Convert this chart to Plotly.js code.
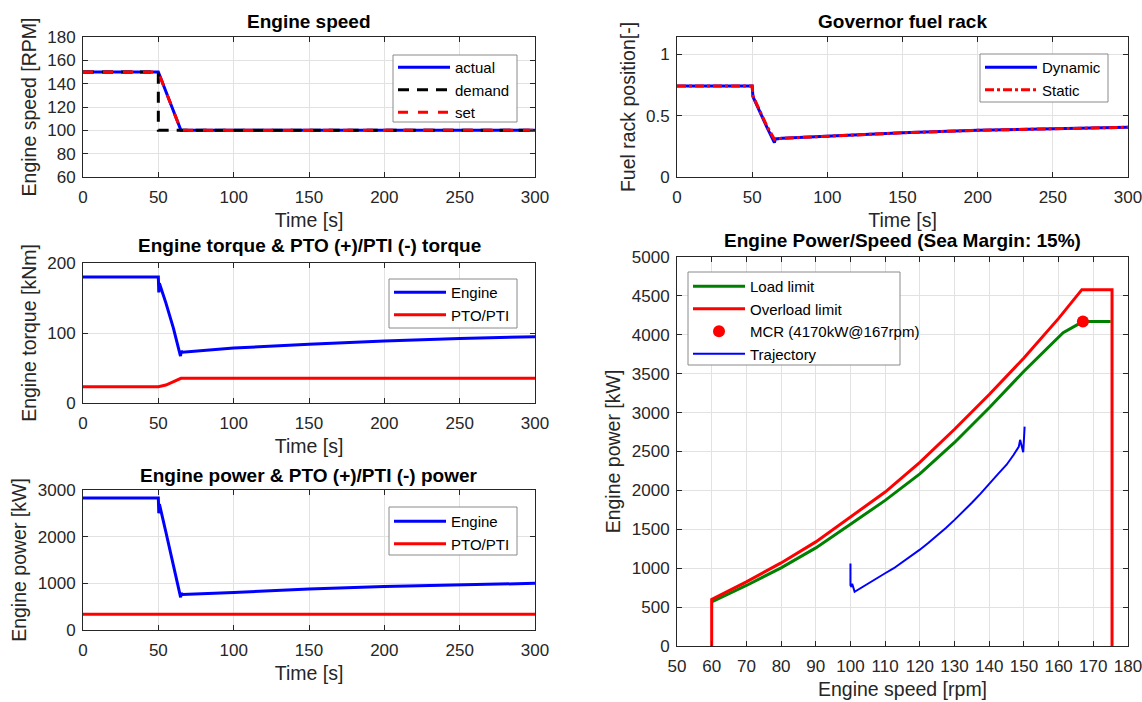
<!DOCTYPE html>
<html>
<head>
<meta charset="utf-8">
<script src="https://cdn.plot.ly/plotly-3.0.1.min.js"></script>
<style>html,body{margin:0;padding:0;background:#fff;}#chart{width:1142px;height:702px;}</style>
</head>
<body>
<div id="chart"></div>
<script>
// ---- Engine speed ----
const timeSpeed = [0, 50, 65, 300];
const speedActual = [150, 150, 100, 100];
const timeDemand = [0, 50, 50, 300];
const speedDemand = [150, 150, 100, 100];
const speedSet = [150, 150, 100, 100];

// ---- Governor fuel rack ----
const timeRack = [0, 50, 50.5, 55, 60, 64.8, 65.5, 70, 100, 150, 200, 250, 300];
const rackDynamic = [0.74, 0.74, 0.655, 0.53, 0.40, 0.28, 0.31, 0.315, 0.334, 0.36, 0.38, 0.394, 0.405];
const rackStatic = [0.74, 0.74, 0.66, 0.535, 0.41, 0.307, 0.31, 0.315, 0.334, 0.36, 0.38, 0.394, 0.405];

// ---- Engine torque ----
const timeTorque = [0, 50, 50.3, 50.7, 55, 60, 64.7, 65.2, 66, 100, 150, 200, 250, 300];
const torqueEngine = [180, 180, 158, 171, 143, 107, 67, 74, 72.5, 78.5, 84, 88.7, 92, 94.8];
const timePto = [0, 50, 55, 60, 65, 300];
const torquePto = [23.3, 23.3, 25.7, 30, 35.2, 35.2];

// ---- Engine power ----
const timePower = [0, 50, 50.3, 50.7, 55, 60, 64.8, 65.2, 66, 100, 150, 200, 250, 300];
const powerEngine = [2830, 2830, 2500, 2700, 2100, 1380, 700, 790, 760, 805, 880, 930, 972, 1000];
const timePtoPower = [0, 300];
const powerPto = [340, 340];

// ---- Engine power / speed ----
const loadSpeed = [60, 70, 80, 90, 100, 110, 120, 130, 140, 150, 161.3, 167, 175];
const loadPower = [568, 778, 1004, 1261, 1564, 1872, 2212, 2616, 3063, 3531, 4028, 4170, 4170];
const overloadSpeed = [60, 60, 70, 80, 90, 100, 110, 120, 130, 140, 150, 160, 166.7, 175.4, 175.4];
const overloadPower = [0, 598, 825, 1068, 1338, 1658, 1979, 2361, 2786, 3233, 3701, 4211, 4580, 4580, 0];
const mcrSpeed = [167];
const mcrPower = [4170];
const trajSpeed = [150.2, 149.8, 148.9, 148.5, 147, 145, 142.5, 140, 137.5, 135, 132.5, 130, 127.5, 125, 122.5, 120, 117.5, 115, 112.5, 110, 107.5, 105, 103, 101.2, 100.5, 100.3, 100, 100];
const trajPower = [2820, 2490, 2650, 2560, 2455, 2330, 2209, 2081, 1958, 1841, 1728, 1621, 1518, 1419, 1327, 1238, 1155, 1075, 1000, 935, 870, 800, 750, 697, 800, 760, 780, 1060];

const FONT = 'Liberation Sans, Arial, sans-serif';
const INK = '#262626';
const BLUE = '#0000ff', RED = '#ff0000', GREEN = '#008000';
const H = 702, W = 1142;

function axis(domain, range, dtick, anchor, titleText, isX) {
  return {
    domain: domain, range: range, dtick: dtick, tick0: 0, anchor: anchor,
    showgrid: true, gridcolor: '#e2e2e2', gridwidth: 1, zeroline: false,
    showline: true, linecolor: INK, linewidth: 1, mirror: 'ticks',
    ticks: 'inside', ticklen: 5, tickcolor: INK,
    ticklabelstandoff: isX ? 5 : 3,
    ticklabeloverflow: 'allow',
    tickfont: {family: FONT, size: 17, color: INK},
    title: {text: titleText, font: {family: FONT, size: 19.5, color: INK}, standoff: isX ? 6 : 5},
    automargin: false, fixedrange: true
  };
}
function yd(top, bottom) { return [1 - bottom / H, 1 - top / H]; }
function xd(left, right) { return [left / W, right / W]; }

const traces = [
  {x: timeSpeed, y: speedActual, name: 'actual', mode: 'lines', line: {color: BLUE, width: 3}, xaxis: 'x', yaxis: 'y', legend: 'legend'},
  {x: timeDemand, y: speedDemand, name: 'demand', mode: 'lines', line: {color: '#000', width: 3, dash: '11px,8px'}, xaxis: 'x', yaxis: 'y', legend: 'legend'},
  {x: timeSpeed, y: speedSet, name: 'set', mode: 'lines', line: {color: RED, width: 3, dash: '10px,10px'}, xaxis: 'x', yaxis: 'y', legend: 'legend'},

  {x: timeRack, y: rackDynamic, name: 'Dynamic', mode: 'lines', line: {color: BLUE, width: 3}, xaxis: 'x2', yaxis: 'y2', legend: 'legend2'},
  {x: timeRack, y: rackStatic, name: 'Static', mode: 'lines', line: {color: RED, width: 3, dash: 'dashdot'}, xaxis: 'x2', yaxis: 'y2', legend: 'legend2'},

  {x: timeTorque, y: torqueEngine, name: 'Engine', mode: 'lines', line: {color: BLUE, width: 3}, xaxis: 'x3', yaxis: 'y3', legend: 'legend3'},
  {x: timePto, y: torquePto, name: 'PTO/PTI', mode: 'lines', line: {color: RED, width: 3}, xaxis: 'x3', yaxis: 'y3', legend: 'legend3'},

  {x: timePower, y: powerEngine, name: 'Engine', mode: 'lines', line: {color: BLUE, width: 3}, xaxis: 'x4', yaxis: 'y4', legend: 'legend4'},
  {x: timePtoPower, y: powerPto, name: 'PTO/PTI', mode: 'lines', line: {color: RED, width: 3}, xaxis: 'x4', yaxis: 'y4', legend: 'legend4'},

  {x: loadSpeed, y: loadPower, name: 'Load limit', mode: 'lines', line: {color: GREEN, width: 3}, xaxis: 'x5', yaxis: 'y5', legend: 'legend5'},
  {x: overloadSpeed, y: overloadPower, name: 'Overload limit', mode: 'lines', line: {color: RED, width: 3}, xaxis: 'x5', yaxis: 'y5', legend: 'legend5'},
  {x: mcrSpeed, y: mcrPower, name: 'MCR (4170kW@167rpm)', mode: 'markers', marker: {color: RED, size: 12}, xaxis: 'x5', yaxis: 'y5', legend: 'legend5'},
  {x: trajSpeed, y: trajPower, name: 'Trajectory', mode: 'lines', line: {color: BLUE, width: 2}, xaxis: 'x5', yaxis: 'y5', legend: 'legend5'}
];

// legend text rows; the box around each legend is drawn as a paper shape
function legendAt(left, top) {
  return {x: left / W, y: 1 - top / H, xref: 'paper', yref: 'paper', xanchor: 'left', yanchor: 'top',
    bgcolor: 'rgba(0,0,0,0)', borderwidth: 0,
    font: {family: FONT, size: 15, color: '#000'}, itemwidth: 52, tracegroupgap: 0,
    traceorder: 'normal'};
}
function legendBox(l, t, r, b) {
  return {type: 'rect', xref: 'paper', yref: 'paper', layer: 'above',
    x0: l / W, x1: r / W, y0: 1 - b / H, y1: 1 - t / H,
    fillcolor: '#ffffff', line: {color: '#8a8a8a', width: 1}};
}
function subTitle(text, xc, yc) {
  return {text: '<b>' + text + '</b>', x: xc / W, y: 1 - yc / H, xref: 'paper', yref: 'paper',
    xanchor: 'center', yanchor: 'middle', showarrow: false,
    font: {family: FONT, size: 19, color: '#000'}};
}

const layout = {
  width: W, height: H,
  margin: {l: 0, r: 0, t: 0, b: 0},
  paper_bgcolor: '#fff', plot_bgcolor: '#fff',
  font: {family: FONT, color: INK},
  showlegend: true,
  xaxis: axis(xd(83, 535), [0, 300], 50, 'y', 'Time [s]', true),
  yaxis: axis(yd(37, 177), [60, 180], 20, 'x', 'Engine speed [RPM]', false),
  xaxis2: axis(xd(677, 1128), [0, 300], 50, 'y2', 'Time [s]', true),
  yaxis2: axis(yd(37, 177), [0, 1.14], 0.5, 'x2', 'Fuel rack position[-]', false),
  xaxis3: axis(xd(83, 535), [0, 300], 50, 'y3', 'Time [s]', true),
  yaxis3: axis(yd(263, 403), [0, 200], 100, 'x3', 'Engine torque [kNm]', false),
  xaxis4: axis(xd(83, 535), [0, 300], 50, 'y4', 'Time [s]', true),
  yaxis4: axis(yd(490, 630), [0, 3000], 1000, 'x4', 'Engine power [kW]', false),
  xaxis5: axis(xd(677, 1128), [50, 180], 10, 'y5', 'Engine speed [rpm]', true),
  yaxis5: axis(yd(257, 646), [0, 5000], 500, 'x5', 'Engine power [kW]', false),
  legend: legendAt(393, 51),
  legend2: legendAt(980, 51),
  legend3: legendAt(389, 276),
  legend4: legendAt(389, 505),
  legend5: legendAt(688, 270),
  shapes: [
    legendBox(393, 55, 517, 122),
    legendBox(980, 54, 1108, 102),
    legendBox(389, 279, 517, 328),
    legendBox(389, 507, 517, 555),
    legendBox(688, 272, 900, 365)
  ],
  annotations: [
    subTitle('Engine speed', 309, 21),
    subTitle('Governor fuel rack', 902, 21),
    subTitle('Engine torque &amp; PTO (+)/PTI (-) torque', 309, 246),
    subTitle('Engine power &amp; PTO (+)/PTI (-) power', 309, 475),
    subTitle('Engine Power/Speed (Sea Margin: 15%)', 902, 240)
  ]
};

Plotly.newPlot('chart', traces, layout, {displayModeBar: false, staticPlot: true});
</script>
</body>
</html>
